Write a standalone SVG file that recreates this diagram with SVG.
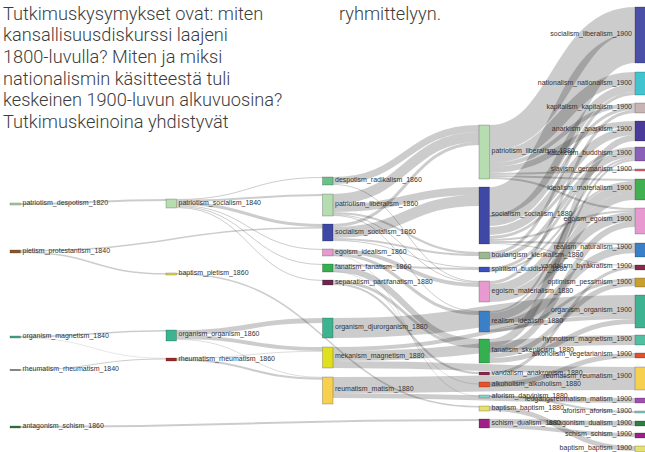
<svg xmlns="http://www.w3.org/2000/svg" width="645" height="452" viewBox="0 0 645 452">
<style>
.t{font-family:Roboto,"Liberation Sans",sans-serif;font-weight:300;font-size:18.2px;fill:#3c3c3c}
.lk path{fill:none;stroke:#000;stroke-opacity:.2}
.n rect{stroke:#000;stroke-opacity:.3;stroke-width:.7}
.n text{font-family:"Liberation Sans",Arial,sans-serif;font-size:7px;fill:#333}
.r text{text-anchor:end}
</style>
<rect width="645" height="452" fill="#fff"/>
<g id="title">
<text class="t" x="3" y="19.5">Tutkimuskysymykset ovat: miten</text>
<text class="t" x="3" y="41.2">kansallisuusdiskurssi laajeni</text>
<text class="t" x="3" y="62.9">1800-luvulla? Miten ja miksi</text>
<text class="t" x="3" y="84.6">nationalismin käsitteestä tuli</text>
<text class="t" x="3" y="106.3">keskeinen 1900-luvun alkuvuosina?</text>
<text class="t" x="3" y="128">Tutkimuskeinoina yhdistyvät</text>
<text class="t" x="339" y="19.5">ryhmittelyyn.</text>
</g>
<g id="links" class="lk">
<path d="M20.5,204C93.25,204 93.25,200 166,200" stroke-width="2"/>
<path d="M20.5,252.25C93.25,252.25 93.25,273.75 166,273.75" stroke-width="1.5"/>
<path d="M20.5,336.75C93.25,336.75 93.25,330.75 166,330.75" stroke-width="1.5"/>
<path d="M20.5,337.75C93.25,337.75 93.25,358.25 166,358.25" stroke-width="0.5"/>
<path d="M20.5,370C93.25,370 93.25,359 166,359" stroke-width="1"/>
<path d="M20.5,250.75C171.5,250.75 171.5,227.75 322.5,227.75" stroke-width="1.5"/>
<path d="M20.5,427C249.75,427 249.75,420 479,420" stroke-width="2"/>
<path d="M176.5,199.5C249.5,199.5 249.5,177.5 322.5,177.5" stroke-width="1"/>
<path d="M176.5,201C249.5,201 249.5,195 322.5,195" stroke-width="2"/>
<path d="M176.5,203.5C249.5,203.5 249.5,225.5 322.5,225.5" stroke-width="3"/>
<path d="M176.5,205.5C249.5,205.5 249.5,249.5 322.5,249.5" stroke-width="1"/>
<path d="M176.5,206.5C249.5,206.5 249.5,264.5 322.5,264.5" stroke-width="1"/>
<path d="M176.5,207.5C249.5,207.5 249.5,280.5 322.5,280.5" stroke-width="1"/>
<path d="M176.5,332.5C249.5,332.5 249.5,320.5 322.5,320.5" stroke-width="5"/>
<path d="M176.5,337C249.5,337 249.5,349 322.5,349" stroke-width="4"/>
<path d="M176.5,339.35C249.5,339.35 249.5,377.35 322.5,377.35" stroke-width="0.7"/>
<path d="M176.5,358.35C249.5,358.35 249.5,351.35 322.5,351.35" stroke-width="0.7"/>
<path d="M176.5,359.7C249.5,359.7 249.5,378.7 322.5,378.7" stroke-width="2"/>
<path d="M176.5,273.75C327.75,273.75 327.75,406.75 479,406.75" stroke-width="1.5"/>
<path d="M333,180.5C406,180.5 406,128.5 479,128.5" stroke-width="7"/>
<path d="M333,184.5C406,184.5 406,281.5 479,281.5" stroke-width="1"/>
<path d="M333,199C406,199 406,137 479,137" stroke-width="10"/>
<path d="M333,208C406,208 406,191 479,191" stroke-width="8"/>
<path d="M333,213C406,213 406,253 479,253" stroke-width="2"/>
<path d="M333,214.5C406,214.5 406,282.5 479,282.5" stroke-width="1"/>
<path d="M333,215.5C406,215.5 406,311.5 479,311.5" stroke-width="1"/>
<path d="M333,225.5C406,225.5 406,143.5 479,143.5" stroke-width="3"/>
<path d="M333,232.5C406,232.5 406,200.5 479,200.5" stroke-width="11"/>
<path d="M333,239C406,239 406,255 479,255" stroke-width="2"/>
<path d="M333,240.5C406,240.5 406,267.5 479,267.5" stroke-width="1"/>
<path d="M333,251C406,251 406,285 479,285" stroke-width="4"/>
<path d="M333,254.5C406,254.5 406,313.5 479,313.5" stroke-width="3"/>
<path d="M333,265C406,265 406,269 479,269" stroke-width="2"/>
<path d="M333,269C406,269 406,342 479,342" stroke-width="6"/>
<path d="M333,281.5C406,281.5 406,346.5 479,346.5" stroke-width="3"/>
<path d="M333,284C406,284 406,373 479,373" stroke-width="2"/>
<path d="M333,271.8C406,271.8 406,384 479,384" stroke-width="0.6"/>
<path d="M333,255.8C406,255.8 406,396 479,396" stroke-width="0.6"/>
<path d="M333,328C484,328 484,305 635,305" stroke-width="20"/>
<path d="M333,349C484,349 484,317 635,317" stroke-width="4"/>
<path d="M333,356C484,356 484,340 635,340" stroke-width="10"/>
<path d="M333,364.5C484,364.5 484,370.5 635,370.5" stroke-width="7"/>
<path d="M333,385C484,385 484,382 635,382" stroke-width="16"/>
<path d="M333,395.5C484,395.5 484,400.5 635,400.5" stroke-width="5"/>
<path d="M489.5,138C562.25,138 562.25,20 635,20" stroke-width="26"/>
<path d="M489.5,157C562.25,157 562.25,78 635,78" stroke-width="12"/>
<path d="M489.5,165C562.25,165 562.25,105 635,105" stroke-width="4"/>
<path d="M489.5,170C562.25,170 562.25,124 635,124" stroke-width="6"/>
<path d="M489.5,174C562.25,174 562.25,170 635,170" stroke-width="2"/>
<path d="M489.5,176C562.25,176 562.25,180 635,180" stroke-width="2"/>
<path d="M489.5,178C562.25,178 562.25,209 635,209" stroke-width="2"/>
<path d="M489.5,202C562.25,202 562.25,48 635,48" stroke-width="30"/>
<path d="M489.5,219C562.25,219 562.25,88 635,88" stroke-width="8"/>
<path d="M489.5,224.5C562.25,224.5 562.25,108.5 635,108.5" stroke-width="3"/>
<path d="M489.5,231C562.25,231 562.25,131 635,131" stroke-width="8"/>
<path d="M489.5,237.5C562.25,237.5 562.25,148.5 635,148.5" stroke-width="3"/>
<path d="M489.5,240C562.25,240 562.25,211 635,211" stroke-width="2"/>
<path d="M489.5,242C562.25,242 562.25,244 635,244" stroke-width="2"/>
<path d="M489.5,243.5C562.25,243.5 562.25,265.5 635,265.5" stroke-width="1"/>
<path d="M489.5,253.5C562.25,253.5 562.25,93.5 635,93.5" stroke-width="3"/>
<path d="M489.5,257C562.25,257 562.25,152 635,152" stroke-width="4"/>
<path d="M489.5,268.5C562.25,268.5 562.25,155.5 635,155.5" stroke-width="3"/>
<path d="M489.5,271C562.25,271 562.25,182 635,182" stroke-width="2"/>
<path d="M489.5,282.5C562.25,282.5 562.25,111.5 635,111.5" stroke-width="3"/>
<path d="M489.5,288.5C562.25,288.5 562.25,187.5 635,187.5" stroke-width="9"/>
<path d="M489.5,297.5C562.25,297.5 562.25,216.5 635,216.5" stroke-width="9"/>
<path d="M489.5,312C562.25,312 562.25,158 635,158" stroke-width="2"/>
<path d="M489.5,317C562.25,317 562.25,196 635,196" stroke-width="8"/>
<path d="M489.5,325C562.25,325 562.25,249 635,249" stroke-width="8"/>
<path d="M489.5,330.5C562.25,330.5 562.25,279.5 635,279.5" stroke-width="3"/>
<path d="M489.5,342C562.25,342 562.25,138 635,138" stroke-width="6"/>
<path d="M489.5,346C562.25,346 562.25,160 635,160" stroke-width="2"/>
<path d="M489.5,350C562.25,350 562.25,224 635,224" stroke-width="6"/>
<path d="M489.5,355.5C562.25,355.5 562.25,283.5 635,283.5" stroke-width="5"/>
<path d="M489.5,360.5C562.25,360.5 562.25,321.5 635,321.5" stroke-width="5"/>
<path d="M489.5,373.5C562.25,373.5 562.25,267.5 635,267.5" stroke-width="3"/>
<path d="M489.5,384.5C562.25,384.5 562.25,355.5 635,355.5" stroke-width="5"/>
<path d="M489.5,396C562.25,396 562.25,412 635,412" stroke-width="2"/>
<path d="M489.5,408.5C562.25,408.5 562.25,448.5 635,448.5" stroke-width="5"/>
<path d="M489.5,421.5C562.25,421.5 562.25,423.5 635,423.5" stroke-width="5"/>
<path d="M489.5,426C562.25,426 562.25,435 635,435" stroke-width="4"/>
</g>
<g class="n">
<g id="patriotism_despotism_1820"><rect x="10" y="203" width="10.5" height="2" fill="#a8d5a2"/><text x="22.5" y="205.3">patriotism_despotism_1820</text></g>
<g id="pietism_protestantism_1840"><rect x="10" y="250" width="10.5" height="3" fill="#8b5a2b"/><text x="22.5" y="252.8">pietism_protestantism_1840</text></g>
<g id="organism_magnetism_1840"><rect x="10" y="336" width="10.5" height="2" fill="#3fb08f"/><text x="22.5" y="338.3">organism_magnetism_1840</text></g>
<g id="rheumatism_rheumatism_1840"><rect x="10" y="369.5" width="10.5" height="1" fill="#555"/><text x="22.5" y="371.3">rheumatism_rheumatism_1840</text></g>
<g id="antagonism_schism_1860"><rect x="10" y="426" width="10.5" height="2" fill="#2e7d40"/><text x="22.5" y="428.3">antagonism_schism_1860</text></g>

<g id="patriotism_socialism_1840"><rect x="166" y="199" width="10.5" height="9" fill="#b5ddb0"/><text x="178.5" y="204.8">patriotism_socialism_1840</text></g>
<g id="baptism_pietism_1860"><rect x="166" y="273" width="10.5" height="2" fill="#e6d84a"/><text x="178.5" y="275.3">baptism_pietism_1860</text></g>
<g id="organism_organism_1860"><rect x="166" y="330" width="10.5" height="11" fill="#3db391"/><text x="178.5" y="336">organism_organism_1860</text></g>
<g id="rheumatism_rheumatism_1860"><rect x="166" y="358" width="10.5" height="3" fill="#a02830"/><text x="178.5" y="360.8">rheumatism_rheumatism_1860</text></g>

<g id="despotism_radikalism_1860"><rect x="322.5" y="177" width="10.5" height="8" fill="#6cc08a"/><text x="335" y="182.3">despotism_radikalism_1860</text></g>
<g id="patriotism_liberalism_1860"><rect x="322.5" y="194" width="10.5" height="22" fill="#b5ddb0"/><text x="335" y="205.8">patriotism_liberalism_1860</text></g>
<g id="socialism_socialism_1860"><rect x="322.5" y="224" width="10.5" height="17" fill="#3f48a5"/><text x="335" y="233.5">socialism_socialism_1860</text></g>
<g id="egoism_idealism_1860"><rect x="322.5" y="249" width="10.5" height="7" fill="#e89ad0"/><text x="335" y="253.6">egoism_idealism_1860</text></g>
<g id="fanatism_fanatism_1860"><rect x="322.5" y="264" width="10.5" height="8" fill="#35b050"/><text x="335" y="269.2">fanatism_fanatism_1860</text></g>
<g id="separatism_partifanatism_1880"><rect x="322.5" y="280" width="10.5" height="5" fill="#6a2a50"/><text x="335" y="284.2">separatism_partifanatism_1880</text></g>
<g id="organism_djurorganism_1880"><rect x="322.5" y="318" width="10.5" height="20" fill="#3db391"/><text x="335" y="329">organism_djurorganism_1880</text></g>
<g id="mekanism_magnetism_1880"><rect x="322.5" y="347" width="10.5" height="21" fill="#e0e020"/><text x="335" y="358">mekanism_magnetism_1880</text></g>
<g id="reumatism_matism_1880"><rect x="322.5" y="377" width="10.5" height="27" fill="#f8d050"/><text x="335" y="391">reumatism_matism_1880</text></g>

<g id="patriotism_liberalism_1880"><rect x="479" y="125" width="10.5" height="54" fill="#b5ddb0"/><text x="491.5" y="153">patriotism_liberalism_1880</text></g>
<g id="socialism_socialism_1880"><rect x="479" y="187" width="10.5" height="57" fill="#3f48a5"/><text x="491.5" y="216">socialism_socialism_1880</text></g>
<g id="boulangism_klerikalism_1880"><rect x="479" y="252" width="10.5" height="7" fill="#9db890"/><text x="491.5" y="256.8">boulangism_klerikalism_1880</text></g>
<g id="spiritism_buddism_1880"><rect x="479" y="267" width="10.5" height="5" fill="#3a4fc0"/><text x="491.5" y="270.8">spiritism_buddism_1880</text></g>
<g id="egoism_materialism_1880"><rect x="479" y="281" width="10.5" height="21" fill="#e89ad0"/><text x="491.5" y="292.5">egoism_materialism_1880</text></g>
<g id="realism_idealism_1880"><rect x="479" y="311" width="10.5" height="21" fill="#3a80c8"/><text x="491.5" y="322.5">realism_idealism_1880</text></g>
<g id="fanatism_skepticism_1880"><rect x="479" y="339" width="10.5" height="24" fill="#35b050"/><text x="491.5" y="352">fanatism_skepticism_1880</text></g>
<g id="vandalism_anakronism_1880"><rect x="479" y="372" width="10.5" height="3" fill="#8a2a4a"/><text x="491.5" y="374.8">vandalism_anakronism_1880</text></g>
<g id="alkoholism_alkoholism_1880"><rect x="479" y="382" width="10.5" height="5" fill="#e8502a"/><text x="491.5" y="385.8">alkoholism_alkoholism_1880</text></g>
<g id="aforism_darvinism_1880"><rect x="479" y="395" width="10.5" height="3" fill="#7fd8c8"/><text x="491.5" y="397.8">aforism_darvinism_1880</text></g>
<g id="baptism_baptism_1880"><rect x="479" y="406" width="10.5" height="5" fill="#e6e070"/><text x="491.5" y="409.8">baptism_baptism_1880</text></g>
<g id="schism_dualism_1880"><rect x="479" y="419" width="10.5" height="9" fill="#a0208a"/><text x="491.5" y="424.8">schism_dualism_1880</text></g>

<g class="r">
<g id="socialism_liberalism_1900"><rect x="635" y="7" width="10.5" height="56" fill="#4a4fa8"/><text x="632" y="36.3">socialism_liberalism_1900</text></g>
<g id="nationalism_nationalism_1900"><rect x="635" y="72" width="10.5" height="23" fill="#40c4d0"/><text x="632" y="84.8">nationalism_nationalism_1900</text></g>
<g id="kapitalism_kapitalism_1900"><rect x="635" y="103" width="10.5" height="10" fill="#c8b4b4"/><text x="632" y="109.3">kapitalism_kapitalism_1900</text></g>
<g id="anarkism_anarkism_1900"><rect x="635" y="121" width="10.5" height="20" fill="#4a3a9a"/><text x="632" y="130.5">anarkism_anarkism_1900</text></g>
<g id="katolicism_buddhism_1900"><rect x="635" y="147" width="10.5" height="14" fill="#8a60b8"/><text x="632" y="154.8">katolicism_buddhism_1900</text></g>
<g id="slavism_germanism_1900"><rect x="635" y="169" width="10.5" height="2" fill="#e86070"/><text x="632" y="171.3">slavism_germanism_1900</text></g>
<g id="idealism_materialism_1900"><rect x="635" y="179" width="10.5" height="21" fill="#40b050"/><text x="632" y="189.5">idealism_materialism_1900</text></g>
<g id="egoism_egoism_1900"><rect x="635" y="208" width="10.5" height="26" fill="#e89ad0"/><text x="632" y="220.8">egoism_egoism_1900</text></g>
<g id="realism_naturalism_1900"><rect x="635" y="243" width="10.5" height="14" fill="#3a80c8"/><text x="632" y="249.3">realism_naturalism_1900</text></g>
<g id="vandalism_byråkratism_1900"><rect x="635" y="265" width="10.5" height="5" fill="#8a2a4a"/><text x="632" y="267.8">vandalism_byråkratism_1900</text></g>
<g id="optimism_pessimism_1900"><rect x="635" y="278" width="10.5" height="9" fill="#c8a030"/><text x="632" y="283.5">optimism_pessimism_1900</text></g>
<g id="organism_organism_1900"><rect x="635" y="295" width="10.5" height="33" fill="#3db391"/><text x="632" y="311.5">organism_organism_1900</text></g>
<g id="hypnotism_magnetism_1900"><rect x="635" y="335" width="10.5" height="10" fill="#50c0a0"/><text x="632" y="340.5">hypnotism_magnetism_1900</text></g>
<g id="alkoholism_vegetarianism_1900"><rect x="635" y="353" width="10.5" height="5" fill="#e8502a"/><text x="632" y="355.8">alkoholism_vegetarianism_1900</text></g>
<g id="reumatism_reumatism_1900"><rect x="635" y="367" width="10.5" height="23" fill="#f8d050"/><text x="632" y="377.5">reumatism_reumatism_1900</text></g>
<g id="ledgångsreumatism_matism_1900"><rect x="635" y="398" width="10.5" height="5" fill="#a050b0"/><text x="632" y="400.8">ledgångsreumatism_matism_1900</text></g>
<g id="aforism_aforism_1900"><rect x="635" y="411" width="10.5" height="2" fill="#80d0c0"/><text x="632" y="413">aforism_aforism_1900</text></g>
<g id="antagonism_dualism_1900"><rect x="635" y="421" width="10.5" height="5" fill="#2a8040"/><text x="632" y="424.5">antagonism_dualism_1900</text></g>
<g id="schism_schism_1900"><rect x="635" y="433" width="10.5" height="5" fill="#a0208a"/><text x="632" y="436.3">schism_schism_1900</text></g>
<g id="baptism_baptism_1900"><rect x="635" y="446" width="10.5" height="6" fill="#e6e070"/><text x="632" y="449.5">baptism_baptism_1900</text></g>
</g>
</g>
</svg>
